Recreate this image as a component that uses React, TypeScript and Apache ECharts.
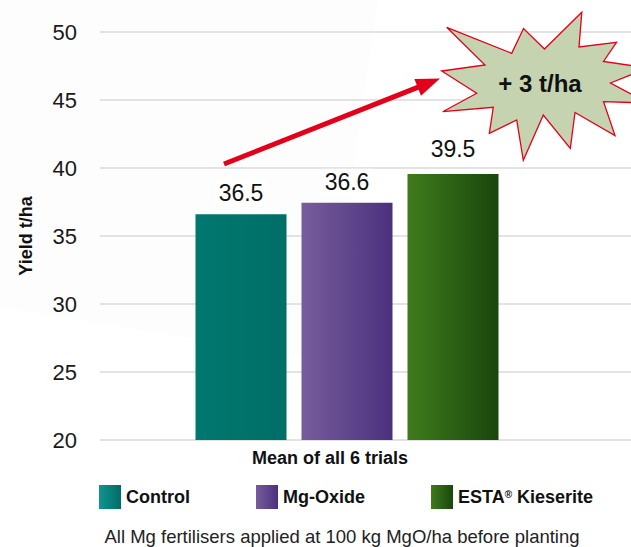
import React, { useEffect, useRef } from 'react';
import * as echarts from 'echarts';

const categories = ['Control', 'Mg-Oxide', 'ESTA® Kieserite'];
const yields = [36.6, 37.45, 39.55];
const valueLabels = ['36.5', '36.6', '39.5'];
const yMin = 20;
const yMax = 50;
const yInterval = 5;
const xAxisTitle = 'Mean of all 6 trials';
const yAxisTitle = 'Yield t/ha';
const gainLabel = '+ 3 t/ha';
const footnote = 'All Mg fertilisers applied at 100 kg MgO/ha before planting';

const FONT = '"Liberation Sans", Arial, Helvetica, sans-serif';

const grad = (a: string, b: string) =>
  new echarts.graphic.LinearGradient(0, 0, 1, 0, [
    { offset: 0, color: a },
    { offset: 1, color: b },
  ]);

export default function App() {
  const ref = useRef<HTMLDivElement>(null);
  useEffect(() => {
    if (!ref.current) return;
    const chart = echarts.init(ref.current, null, { renderer: 'svg' });
    const barColors = [
      grad('#00786f', '#006e67'),
      grad('#775d9c', '#4b317d'),
      grad('#3f7c1b', '#19460e'),
    ];
    const legendColors = [
      grad('#12958f', '#006c66'),
      grad('#775d9c', '#4b317d'),
      grad('#3f7c1b', '#19460e'),
    ];
    const labelDistances = [8, 7, 12];

    const starPts = [
      [446.7, 27.3], [511.7, 53.3], [523.5, 28.5], [544.5, 49], [581.8, 12.2],
      [579, 47], [616.5, 42.3], [603.5, 61.5], [648, 68], [610.5, 83],
      [648, 103], [603.5, 101.7], [615, 135.5], [575, 112.5], [570.3, 148.3],
      [543.3, 115], [523.3, 160.3], [516.7, 120], [489.3, 133.3], [493.3, 107.3],
      [442.7, 111.7], [476.7, 93.3], [441.7, 71], [485, 65],
    ];

    const tip = [440, 78.5];
    const start = [224, 164];
    const dx = tip[0] - start[0];
    const dy = tip[1] - start[1];
    const len = Math.sqrt(dx * dx + dy * dy);
    const ux = dx / len;
    const uy = dy / len;
    const headLen = 24;
    const headHalf = 9;
    const bx = tip[0] - headLen * ux;
    const by = tip[1] - headLen * uy;
    const nx = -uy;
    const ny = ux;

    chart.setOption({
      animation: false,
      backgroundColor: '#ffffff',
      textStyle: { fontFamily: FONT },
      grid: [
        { left: 100, right: 0, top: 32, bottom: 107 },
        { left: 188, width: 318, top: 32, bottom: 107 },
      ],
      xAxis: [
        { gridIndex: 0, type: 'category', data: [''], show: false },
        { gridIndex: 1, type: 'category', data: categories, show: false },
      ],
      yAxis: [
        {
          gridIndex: 0,
          type: 'value',
          min: yMin,
          max: yMax,
          interval: yInterval,
          axisLine: { show: false },
          axisTick: { show: false },
          axisLabel: { fontSize: 22, color: '#1a1a1a', margin: 23, fontFamily: FONT },
          splitLine: { lineStyle: { color: '#e3e3e3', width: 2 } },
          name: yAxisTitle,
          nameLocation: 'middle',
          nameRotate: 90,
          nameGap: 65,
          nameTextStyle: { fontSize: 18, fontWeight: 'bold', color: '#111', fontFamily: FONT },
        },
        {
          gridIndex: 1,
          type: 'value',
          min: yMin,
          max: yMax,
          interval: yInterval,
          show: false,
          splitLine: { show: false },
        },
      ],
      legend: {
        left: 99,
        top: 485,
        padding: 0,
        itemWidth: 22,
        itemHeight: 24,
        itemGap: 66,
        icon: 'rect',
        selectedMode: false,
        data: categories.map((name, i) => ({ name, itemStyle: { color: legendColors[i] } })),
        formatter: (name: string) =>
          name.indexOf('®') >= 0
            ? name.split('®').map((p) => `{a|${p}}`).join('{s|®}')
            : name,
        textStyle: {
          fontSize: 18,
          fontWeight: 'bold',
          color: '#111',
          fontFamily: FONT,
          rich: {
            a: { fontSize: 18, fontWeight: 'bold', color: '#111', fontFamily: FONT },
            s: { fontSize: 10, fontWeight: 'bold', color: '#111', fontFamily: FONT, verticalAlign: 'top', padding: [1, 0, 0, 0] },
          },
        },
      },
      series: categories.map((name, i) => ({
        type: 'bar',
        name,
        xAxisIndex: 1,
        yAxisIndex: 1,
        barWidth: 91,
        barGap: '-100%',
        itemStyle: { color: barColors[i] },
        label: {
          show: true,
          position: 'top',
          distance: labelDistances[i],
          formatter: () => valueLabels[i],
          fontSize: 23,
          color: '#111',
          fontFamily: FONT,
          backgroundColor: '#ffffff',
          padding: [2, 4],
        },
        data: categories.map((_, j) => (j === i ? yields[i] : '-')),
      })),
      graphic: [
        {
          type: 'polygon',
          z: -100,
          silent: true,
          shape: { points: [[0, 0], [378, 0], [352, 175], [335, 362], [0, 307]] },
          style: { fill: '#fdfdfd' },
        },
        {
          type: 'line',
          z: 50,
          shape: { x1: start[0], y1: start[1], x2: bx + ux * 2, y2: by + uy * 2 },
          style: { stroke: '#e2001a', lineWidth: 5 },
        },
        {
          type: 'polygon',
          z: 50,
          shape: {
            points: [
              tip,
              [bx + headHalf * nx, by + headHalf * ny],
              [bx - headHalf * nx, by - headHalf * ny],
            ],
          },
          style: { fill: '#e2001a' },
        },
        {
          type: 'polygon',
          z: 50,
          shape: { points: starPts },
          style: { fill: '#c5d3b1', stroke: '#e2001a', lineWidth: 1.3 },
        },
        {
          type: 'text',
          z: 51,
          x: 540,
          y: 83,
          style: {
            text: gainLabel,
            fontSize: 24,
            fontWeight: 'bold',
            fontFamily: FONT,
            fill: '#111',
            align: 'center',
            verticalAlign: 'middle',
          },
        },
        {
          type: 'text',
          x: 330,
          y: 458,
          style: {
            text: xAxisTitle,
            fontSize: 18,
            fontWeight: 'bold',
            fontFamily: FONT,
            fill: '#111',
            align: 'center',
            verticalAlign: 'middle',
          },
        },
        {
          type: 'text',
          x: 342,
          y: 536,
          style: {
            text: footnote,
            fontSize: 18.5,
            fontFamily: FONT,
            fill: '#222',
            align: 'center',
            verticalAlign: 'middle',
          },
        },
      ],
    });
    return () => chart.dispose();
  }, []);
  return (
    <div
      ref={ref}
      style={{ position: 'fixed', left: 0, top: 0, width: 631, height: 547 }}
    />
  );
}
